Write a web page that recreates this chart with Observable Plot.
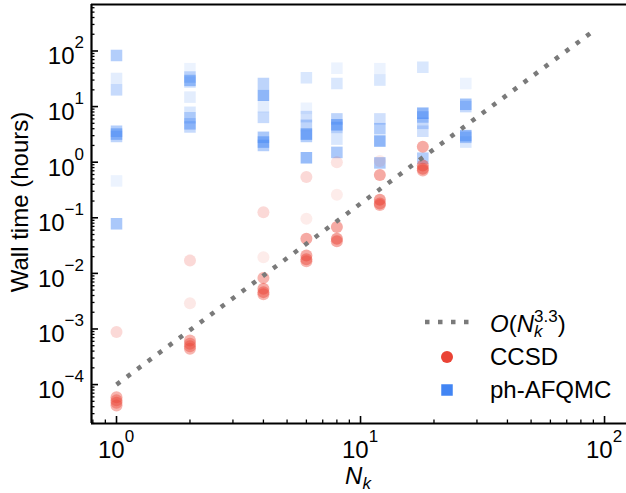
<!DOCTYPE html>
<html><head><meta charset="utf-8">
<script src="https://cdn.jsdelivr.net/npm/d3@7"></script>
<script src="https://cdn.jsdelivr.net/npm/@observablehq/plot@0.6"></script>
<style>
html,body{margin:0;padding:0;background:#fff;}
#chart{width:626px;height:493px;overflow:hidden;}
svg{font-family:"Liberation Sans",Arial,sans-serif;}
</style>
</head><body><div id="chart"></div>
<script>
// ---------- data ----------
const ccsdNk    = [1,1,1,1,1, 2,2,2,2,2,2, 4,4,4,4,4,4, 6,6,6,6,6,6, 8,8,8,8,8, 12,12,12,12,12, 18,18,18,18];
const ccsdTime  = [8.8e-4,5.9e-5,5.2e-5,4.7e-5,4.2e-5,
                   0.017,0.0029,6.2e-4,5.4e-4,4.9e-4,4.4e-4,
                   0.126,0.0195,0.0083,0.0053,0.0046,0.0042,
                   0.54,0.096,0.042,0.021,0.018,0.0166,
                   1.0,0.26,0.068,0.042,0.038,
                   1.05,0.59,0.21,0.18,0.17,
                   1.9,0.87,0.76,0.71];
const ccsdAlpha = [0.2,0.4,0.4,0.4,0.4,
                   0.2,0.12,0.4,0.4,0.4,0.4,
                   0.2,0.1,0.4,0.45,0.45,0.4,
                   0.2,0.1,0.45,0.45,0.45,0.4,
                   0.15,0.1,0.45,0.5,0.45,
                   0.1,0.45,0.5,0.45,0.4,
                   0.45,0.5,0.5,0.4];

const afqmcNk    = [1,1,1,1,1,1,1,1, 2,2,2,2,2,2,2,2,2, 4,4,4,4,4,4,4, 6,6,6,6,6,6,6, 8,8,8,8,8,8,8, 12,12,12,12,12,12, 18,18,18,18,18,18, 27,27,27,27,27,27];
const afqmcTime  = [83,32,20,3.6,3.2,2.9,0.46,0.078,
                    48,34,29.5,27.5,14.8,7.9,6.3,4.9,4.3,
                    26,16,10,6.4,2.8,2.3,2.0,
                    33,9.3,6.6,4.6,3.2,2.9,1.2,
                    49,26,6.0,4.7,4.2,2.6,1.5,
                    48,30,6.0,4.0,2.4,0.97,
                    51,7.6,6.5,5.0,3.6,1.18,
                    26,11,10,3.0,2.8,2.3];
const afqmcAlpha = [0.4,0.15,0.3,0.4,0.5,0.35,0.1,0.45,
                    0.1,0.3,0.5,0.2,0.15,0.2,0.3,0.45,0.3,
                    0.35,0.6,0.15,0.3,0.45,0.5,0.4,
                    0.2,0.1,0.25,0.35,0.6,0.4,0.55,
                    0.1,0.2,0.35,0.55,0.4,0.2,0.45,
                    0.1,0.2,0.25,0.4,0.6,0.45,
                    0.2,0.6,0.4,0.3,0.25,0.4,
                    0.1,0.5,0.3,0.55,0.4,0.2];

const fitNk   = [1, 93];
const fitTime = [1e-4, 255];

const xMajor = [1, 10, 100];
const xMinor = [0.8,0.9, 2,3,4,5,6,7,8,9, 20,30,40,50,60,70,80,90];
const yMajor = [1e-4,1e-3,1e-2,1e-1,1,10,100];
const yMinor = [2e-5,3e-5,4e-5,5e-5,6e-5,7e-5,8e-5,9e-5,
                2e-4,3e-4,4e-4,5e-4,6e-4,7e-4,8e-4,9e-4,
                2e-3,3e-3,4e-3,5e-3,6e-3,7e-3,8e-3,9e-3,
                0.02,0.03,0.04,0.05,0.06,0.07,0.08,0.09,
                0.2,0.3,0.4,0.5,0.6,0.7,0.8,0.9,
                2,3,4,5,6,7,8,9, 20,30,40,50,60,70,80,90, 200,300,400,500,600];

const seriesNames = ["O(N_k^3.3)", "CCSD", "ph-AFQMC"];
const RED = "#EA4335", BLUE = "#4285F4", GREY = "#7a7a7a";
const DASH = "4.5,8.5";

// ---------- tables ----------
const ccsd  = ccsdNk.map((x,i)  => ({x, y: ccsdTime[i],  a: ccsdAlpha[i]}));
const afqmc = afqmcNk.map((x,i) => ({x, y: afqmcTime[i], a: afqmcAlpha[i]}));
const fit   = fitNk.map((x,i)   => ({x, y: fitTime[i]}));

const xDomain = [10 ** -0.1025, 10 ** 2.09];
const yDomain = [10 ** -4.70, 10 ** 2.836];

const plot = Plot.plot({
  width: 626, height: 493,
  marginLeft: 91, marginRight: 0, marginTop: 4, marginBottom: 70,
  style: {fontFamily: '"Liberation Sans", Arial, sans-serif', fontSize: "24px", background: "white", overflow: "visible"},
  x: {type: "log", domain: xDomain, axis: null},
  y: {type: "log", domain: yDomain, axis: null},
  marks: [
    Plot.dot(afqmc, {x: "x", y: "y", symbol: "square", r: 6.5, fill: BLUE, fillOpacity: "a", stroke: "none"}),
    Plot.dot(ccsd,  {x: "x", y: "y", symbol: "circle", r: 6,   fill: RED,  fillOpacity: "a", stroke: "none"}),
    Plot.line(fit,  {x: "x", y: "y", stroke: GREY, strokeWidth: 4.5, strokeDasharray: DASH, strokeLinecap: "butt"}),
    Plot.axisX(xMinor, {anchor: "bottom", tickSize: -3.5, fill: "none", strokeWidth: 1.3, label: null}),
    Plot.axisX(xMajor, {anchor: "bottom", tickSize: -7,   fill: "none", strokeWidth: 1.6, label: null}),
    Plot.axisY(yMinor, {anchor: "left",   tickSize: -3.5, fill: "none", strokeWidth: 1.3, label: null}),
    Plot.axisY(yMajor, {anchor: "left",   tickSize: -7,   fill: "none", strokeWidth: 1.6, label: null}),
    Plot.ruleX([xDomain[0]], {stroke: "black", strokeWidth: 2.2}),
    Plot.ruleY([yDomain[0], yDomain[1]], {stroke: "black", strokeWidth: 2.2})
  ]
});
document.getElementById("chart").appendChild(plot);

// ---------- tick labels with superscripts, via the plot's own scales ----------
const svg = d3.select(plot);
const sx = plot.scale("x"), sy = plot.scale("y");
const FS = 24, SFS = 17;
const lab = svg.append("g").attr("fill", "black");
function pow10(g, v) {
  const e = Math.round(Math.log10(v));
  g.append("tspan").text("10");
  g.append("tspan").attr("font-size", SFS).attr("dy", -16).text(e < 0 ? "\u2212" + (-e) : String(e));
}
yMajor.forEach(v => {
  const t = lab.append("text").attr("x", 84).attr("y", sy.apply(v) + 14)
    .attr("text-anchor", "end").attr("font-size", FS);
  pow10(t, v);
});
xMajor.forEach(v => {
  const t = lab.append("text").attr("x", sx.apply(v)).attr("y", 458)
    .attr("text-anchor", "middle").attr("font-size", FS);
  pow10(t, v);
});

// axis titles
lab.append("text").attr("transform", "translate(28,202) rotate(-90)")
  .attr("text-anchor", "middle").attr("font-size", FS).text("Wall time (hours)");
const xt = lab.append("text").attr("x", 358).attr("y", 484).attr("text-anchor", "middle").attr("font-size", FS);
xt.append("tspan").attr("font-style", "italic").text("N");
xt.append("tspan").attr("font-style", "italic").attr("font-size", SFS).attr("dy", 5).text("k");

// ---------- legend ----------
const lg = svg.append("g").attr("fill", "black");
const lx = 447, ltx = 490, rows = [322, 357, 390];
lg.append("line").attr("x1", lx - 22).attr("x2", lx + 22).attr("y1", rows[0]).attr("y2", rows[0])
  .attr("stroke", GREY).attr("stroke-width", 4.5).attr("stroke-dasharray", DASH);
lg.append("circle").attr("cx", lx).attr("cy", rows[1]).attr("r", 6).attr("fill", RED);
lg.append("rect").attr("x", lx - 5.75).attr("y", rows[2] - 5.75).attr("width", 11.5).attr("height", 11.5).attr("fill", BLUE);
const t0 = lg.append("text").attr("x", ltx).attr("y", rows[0] + 10).attr("font-size", FS).attr("text-anchor", "start");
t0.append("tspan").attr("font-style", "italic").text("O");
t0.append("tspan").text("(");
t0.append("tspan").attr("font-style", "italic").text("N");
t0.append("tspan").attr("font-style", "italic").attr("font-size", SFS).attr("dy", 5).text("k");
t0.append("tspan").attr("font-size", SFS).attr("dx", -8.5).attr("dy", -15).text("3.3");
t0.append("tspan").attr("dy", 10).text(")");
lg.append("text").attr("x", ltx).attr("y", rows[1] + 8).attr("font-size", FS).attr("text-anchor", "start").text(seriesNames[1]);
lg.append("text").attr("x", ltx).attr("y", rows[2] + 8).attr("font-size", FS).attr("text-anchor", "start").text(seriesNames[2]);
</script>
</body></html>
